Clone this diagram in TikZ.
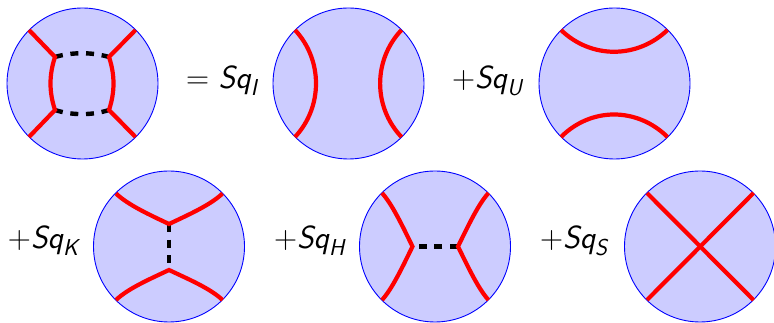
\documentclass[tikz,border=0pt]{standalone}
\newcommand{\sqlab}[2]{\fontsize{32}{34}\selectfont{\rmfamily #1}\sffamily\itshape Sq\raisebox{-0.2em}{\fontsize{23}{24}\selectfont #2}}
\tikzset{
  disc/.style={circle,draw=blue,fill=blue!20,line width=0.9pt,minimum size=151pt,inner sep=0pt},
  redline/.style={draw=red,line width=4.2pt},
  propag/.style={draw=black,line width=4.4pt,dash pattern=on 8pt off 7.7pt},
  lab/.style={anchor=base west,inner sep=0pt,outer sep=0pt}
}
\begin{document}
\begin{tikzpicture}[x=1pt,y=-1pt]
\useasboundingbox (0,0) rectangle (774,323);
% discs
\node[disc] (d1) at (82.5,83.5) {};
\node[disc] (d2) at (348.5,83.5) {};
\node[disc] (d3) at (614.5,83.5) {};
\node[disc] (d4) at (169,246.5) {};
\node[disc] (d5) at (435,246.5) {};
\node[disc] (d6) at (700,246.5) {};
% labels
\node[lab] (l1) at (186,89) {\sqlab{=\hspace{0.3em}}{I}};
\node[lab] (l2) at (452,89) {\sqlab{+}{U}};
\node[lab] (l3) at (8,249) {\sqlab{+}{K}};
\node[lab] (l4) at (274,249) {\sqlab{+}{H}};
\node[lab] (l5) at (540,249) {\sqlab{+}{S}};
% disc 1
\coordinate (a1) at (29,30);\coordinate (a2) at (135.5,30);\coordinate (a3) at (29,137);\coordinate (a4) at (135.5,137);
\coordinate (b1) at (55,57);\coordinate (b2) at (109,57);\coordinate (b3) at (55,110);\coordinate (b4) at (109,110);
\draw[propag] (b1) .. controls (72,52) and (92,52) .. (b2);
\draw[propag] (b3) .. controls (72,115.5) and (92,115.5) .. (b4);
\draw[redline] (a1) -- (b1) .. controls (49,75) and (49,92) .. (b3) -- (a3);
\draw[redline] (a2) -- (b2) .. controls (115,75) and (115,92) .. (b4) -- (a4);
% disc 2
\coordinate (c1) at (295,30);\coordinate (c2) at (401.5,30);\coordinate (c3) at (295,137);\coordinate (c4) at (401.5,137);
\draw[redline] (c1) .. controls (323,60) and (323,107) .. (c3);
\draw[redline] (c2) .. controls (373,60) and (373,107) .. (c4);
% disc 3
\coordinate (e1) at (561,30);\coordinate (e2) at (667.5,30);\coordinate (e3) at (561,137);\coordinate (e4) at (667.5,137);
\draw[redline] (e1) .. controls (591,59) and (637,59) .. (e2);
\draw[redline] (e3) .. controls (591,107) and (637,107) .. (e4);
% disc 4
\coordinate (f1) at (116,193.5);\coordinate (f2) at (222.5,193.5);\coordinate (f3) at (116,300);\coordinate (f4) at (222.5,300);
\coordinate (g1) at (169,224);\coordinate (g2) at (169,270);
\draw[propag] (g1) -- (g2);
\draw[redline] (f1) .. controls (128,205) and (150,215) .. (g1) .. controls (188,215) and (210.5,205) .. (f2);
\draw[redline] (f3) .. controls (128,288.5) and (150,279) .. (g2) .. controls (188,279) and (210.5,288.5) .. (f4);
% disc 5
\coordinate (h1) at (382,193);\coordinate (h2) at (488.5,193);\coordinate (h3) at (382,300);\coordinate (h4) at (488.5,300);
\coordinate (i1) at (412.5,246.5);\coordinate (i2) at (458,246.5);
\draw[propag] (i2) -- (i1);
\draw[redline] (h1) .. controls (392,204) and (402,225) .. (i1) .. controls (402,268) and (392,289) .. (h3);
\draw[redline] (h2) .. controls (478.5,204) and (468.5,225) .. (i2) .. controls (468.5,268) and (478.5,289) .. (h4);
% disc 6
\coordinate (j1) at (647,193);\coordinate (j2) at (753.5,193);\coordinate (j3) at (647,300);\coordinate (j4) at (753.5,300);
\draw[redline] (j1) -- (j4);
\draw[redline] (j2) -- (j3);
\end{tikzpicture}
\end{document}
